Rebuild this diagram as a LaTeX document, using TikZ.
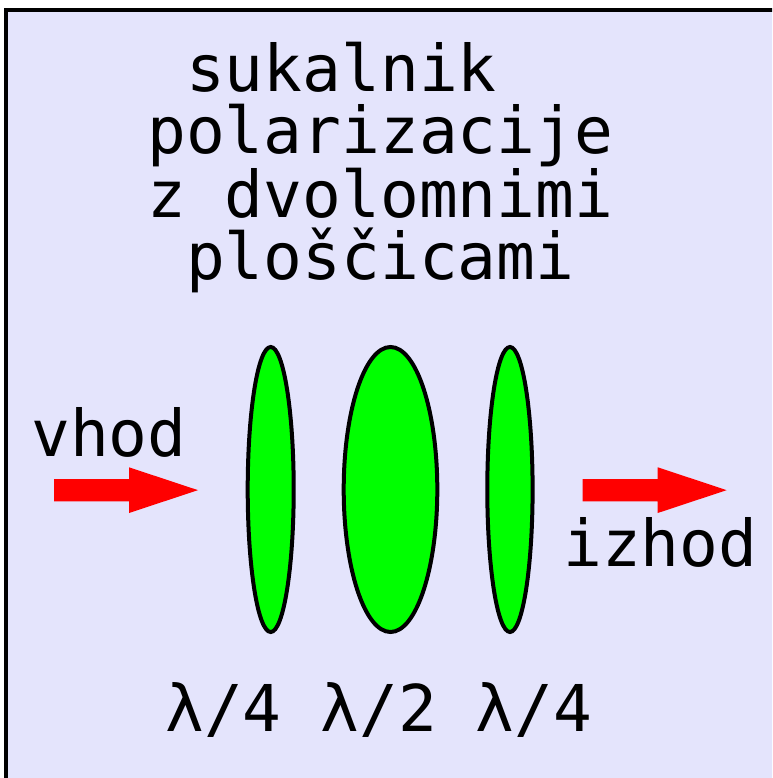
\documentclass[tikz,border=0pt]{standalone}
\usepackage{fontspec}
\newfontfamily\platefont{DejaVu Sans Mono}
\usetikzlibrary{positioning,shapes.geometric}
\definecolor{panel}{HTML}{E4E4FC}
\definecolor{plate}{HTML}{00FF00}
\definecolor{beam}{HTML}{FF0000}

\begin{document}
\begin{tikzpicture}[x=1pt,y=-1pt,
  font=\platefont\fontsize{64.5}{62}\selectfont,
  wave/.style={draw=black,fill=plate,ellipse,line width=4pt,inner sep=0pt,
    minimum height=285pt,minimum width=#1},
  label/.style={anchor=base west,inner sep=0pt,align=left},
  arrowbody/.style={fill=beam}
]
\useasboundingbox (0,0) rectangle (772,778);
\clip (0,0) rectangle (772,778);
\draw[fill=panel,line width=3.5pt] (6,10) rectangle (790,790);
% base anchor sits on the last line
\node[label] (title) at (147,279)
  {\hphantom{s}sukalnik\\polarizacije\\z dvolomnimi\\\hphantom{s}ploščicami};
\node[wave=46pt] (q1) at (270.7,489.5) {};
\node[wave=93.6pt,right=46pt of q1] (h) {};
\node[wave=45.3pt,right=46pt of h] (q2) {};
\node[label] (in) at (31,456) {vhod};
\node[label] (out) at (563,566.7) {izhod};
\node[label] (lam) at (165,731.7) {λ/4 λ/2 λ/4};
\foreach \x in {54,582.7}
  \fill[arrowbody] (\x,479) -- ++(75,0) -- ++(0,-11.7) -- ++(69,22.85)
    -- ++(-69,22.85) -- ++(0,-11.7) -- ++(-75,0) -- cycle;
\end{tikzpicture}
\end{document}
